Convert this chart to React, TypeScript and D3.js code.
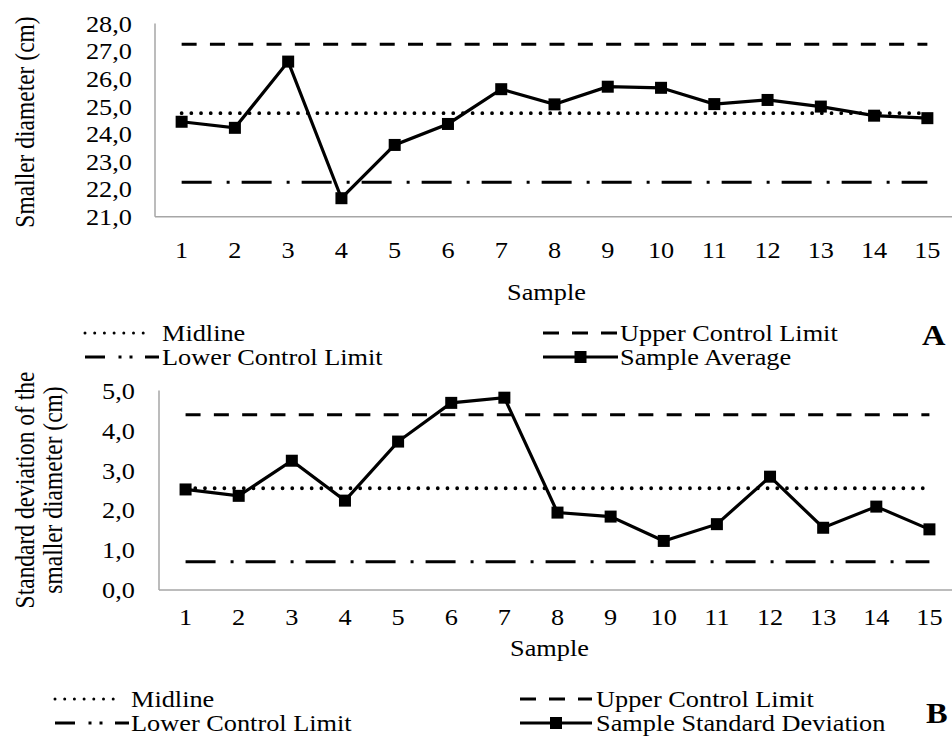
import React, { useEffect, useRef } from 'react';
import * as d3 from 'd3';

// sample numbers on the x axis
const samples = ["1", "2", "3", "4", "5", "6", "7", "8", "9", "10", "11", "12", "13", "14", "15"];

// chart A: sample averages of the smaller diameter (cm)
const sampleAverage = [24.44, 24.22, 26.62, 21.67, 23.6, 24.36, 25.62, 25.07, 25.71, 25.67, 25.08, 25.23, 24.99, 24.66, 24.57];
const avgMidline = 24.75;
const avgUpper = 27.25;
const avgLower = 22.25;
const avgTicks = [21, 22, 23, 24, 25, 26, 27, 28];

// chart B: sample standard deviations (cm)
const sampleStdDev = [2.52, 2.36, 3.24, 2.24, 3.72, 4.69, 4.82, 1.94, 1.84, 1.23, 1.65, 2.84, 1.56, 2.09, 1.52];
const sdMidline = 2.55;
const sdUpper = 4.39;
const sdLower = 0.71;
const sdTicks = [0, 1, 2, 3, 4, 5];

const FONT = '"Liberation Serif", "Times New Roman", serif';
const SX = 1.12; // the source picture is a bit wider than tall
const FS = 23.5;

const fmt = (v) => d3.format(".1f")(v).replace(".", ",");

const addText = (g, x, y, str, anchor, size = FS, weight = "normal") =>
  g.append("text")
    .attr("transform", `translate(${x},${y}) scale(${SX},1)`)
    .attr("text-anchor", anchor)
    .attr("dy", "0.35em")
    .attr("font-family", FONT)
    .attr("font-size", size)
    .attr("font-weight", weight)
    .attr("fill", "#000")
    .text(str);

const drawPanel = (svg, cfg) => {
  const g = svg.append("g");

  const x = d3.scaleBand().domain(samples).range([cfg.left, cfg.right]);
  const cx = d => x(d) + x.bandwidth() / 2;
  const y = d3.scaleLinear().domain(cfg.yDomain).range([cfg.bottom, cfg.top]);

  // axis lines
  g.append("line")
    .attr("x1", cfg.left).attr("x2", cfg.left)
    .attr("y1", cfg.top).attr("y2", cfg.bottom)
    .attr("stroke", "#a6a6a6").attr("stroke-width", 1.5);
  g.append("line")
    .attr("x1", cfg.left).attr("x2", 952)
    .attr("y1", cfg.bottom).attr("y2", cfg.bottom)
    .attr("stroke", "#a6a6a6").attr("stroke-width", 1.5);

  // tick labels
  cfg.ticks.forEach(t => addText(g, cfg.tickLabelX, y(t), fmt(t), "end"));
  samples.forEach(s => addText(g, cx(s), cfg.xLabelY, s, "middle"));
  addText(g, (cfg.left + cfg.right) / 2 - 8, cfg.sampleY, "Sample", "middle");

  // y title
  cfg.titleLines.forEach((line, i) => {
    g.append("text")
      .attr("transform", `translate(${cfg.titleX[i]},${cfg.titleY}) scale(${SX},1) rotate(-90)`)
      .attr("text-anchor", "middle")
      .attr("dy", "0.35em")
      .attr("font-family", FONT)
      .attr("font-size", FS)
      .text(line);
  });

  // control limits
  const x0 = cx(samples[0]);
  const x1 = cx(samples[samples.length - 1]);
  const hline = (v, dash, width, cap) =>
    g.append("line")
      .attr("x1", x0).attr("x2", x1)
      .attr("y1", y(v)).attr("y2", y(v))
      .attr("stroke", "#000")
      .attr("stroke-width", width)
      .attr("stroke-dasharray", dash)
      .attr("stroke-linecap", cap);

  hline(cfg.upper, "15,13.3", 3, "butt");
  hline(cfg.mid, "0,9.7", 3.8, "round");
  hline(cfg.lower, "30,15,3,12", 3, "butt");

  // series
  const line = d3.line()
    .x((d, i) => cx(samples[i]))
    .y(d => y(d));

  g.append("path")
    .datum(cfg.values)
    .attr("fill", "none")
    .attr("stroke", "#000")
    .attr("stroke-width", 3.2)
    .attr("stroke-linejoin", "miter")
    .attr("d", line);

  g.selectAll(".marker")
    .data(cfg.values)
    .enter().append("rect")
    .attr("class", "marker")
    .attr("x", (d, i) => cx(samples[i]) - 6)
    .attr("y", d => y(d) - 6)
    .attr("width", 12)
    .attr("height", 12)
    .attr("fill", "#000");

  // legend
  const lg = cfg.legend;
  const seg = (xa, xb, yy, dash, width, cap) =>
    g.append("line")
      .attr("x1", xa).attr("x2", xb)
      .attr("y1", yy).attr("y2", yy)
      .attr("stroke", "#000")
      .attr("stroke-width", width)
      .attr("stroke-dasharray", dash)
      .attr("stroke-linecap", cap);

  seg(lg.leftX0, lg.leftX1, lg.row1, "0,9.7", 3, "round");
  addText(g, lg.leftText, lg.row1, "Midline", "start");
  seg(lg.leftX0, lg.leftText - 2, lg.row2, "20,13.5,3,8,3,12.5,14", 3, "butt");
  addText(g, lg.leftText, lg.row2, "Lower Control Limit", "start");

  seg(lg.rightX0, lg.rightX1, lg.row1, "16,13", 3, "butt");
  addText(g, lg.rightText, lg.row1, "Upper Control Limit", "start");
  seg(lg.rightX0, lg.rightX1, lg.row2, null, 3, "butt");
  g.append("rect")
    .attr("x", (lg.rightX0 + lg.rightX1) / 2 - 6)
    .attr("y", lg.row2 - 6)
    .attr("width", 12).attr("height", 12)
    .attr("fill", "#000");
  addText(g, lg.rightText, lg.row2, cfg.seriesName, "start");

  addText(g, cfg.letterX, cfg.letterY, cfg.letter, "start", 29, "bold");
};

const App = () => {
  const svgRef = useRef();

  useEffect(() => {
    const svg = d3.select(svgRef.current);
    svg.selectAll("*").remove();

    drawPanel(svg, {
      values: sampleAverage, mid: avgMidline, upper: avgUpper, lower: avgLower,
      ticks: avgTicks, yDomain: [21, 28],
      left: 155, right: 954, top: 23.5, bottom: 216.7,
      tickLabelX: 132, xLabelY: 250, sampleY: 292,
      titleLines: ["Smaller diameter (cm)"], titleX: [25], titleY: 122,
      seriesName: "Sample Average",
      legend: { row1: 333, row2: 357, leftX0: 85, leftX1: 146, leftText: 162, rightX0: 543, rightX1: 618, rightText: 620 },
      letter: "A", letterX: 922, letterY: 335,
    });

    drawPanel(svg, {
      values: sampleStdDev, mid: sdMidline, upper: sdUpper, lower: sdLower,
      ticks: sdTicks, yDomain: [0, 5],
      left: 159, right: 956, top: 390.5, bottom: 590,
      tickLabelX: 135, xLabelY: 617, sampleY: 648,
      titleLines: ["Standard deviation of the", "smaller diameter (cm)"], titleX: [25, 53], titleY: 490,
      seriesName: "Sample Standard Deviation",
      legend: { row1: 699, row2: 723, leftX0: 55, leftX1: 114, leftText: 131, rightX0: 520, rightX1: 592, rightText: 596 },
      letter: "B", letterX: 926, letterY: 713,
    });
  }, []);

  return (
    <svg ref={svgRef} width={952} height={738}
      style={{ position: "absolute", left: 0, top: 0, background: "#fff" }} />
  );
};

export default App;
